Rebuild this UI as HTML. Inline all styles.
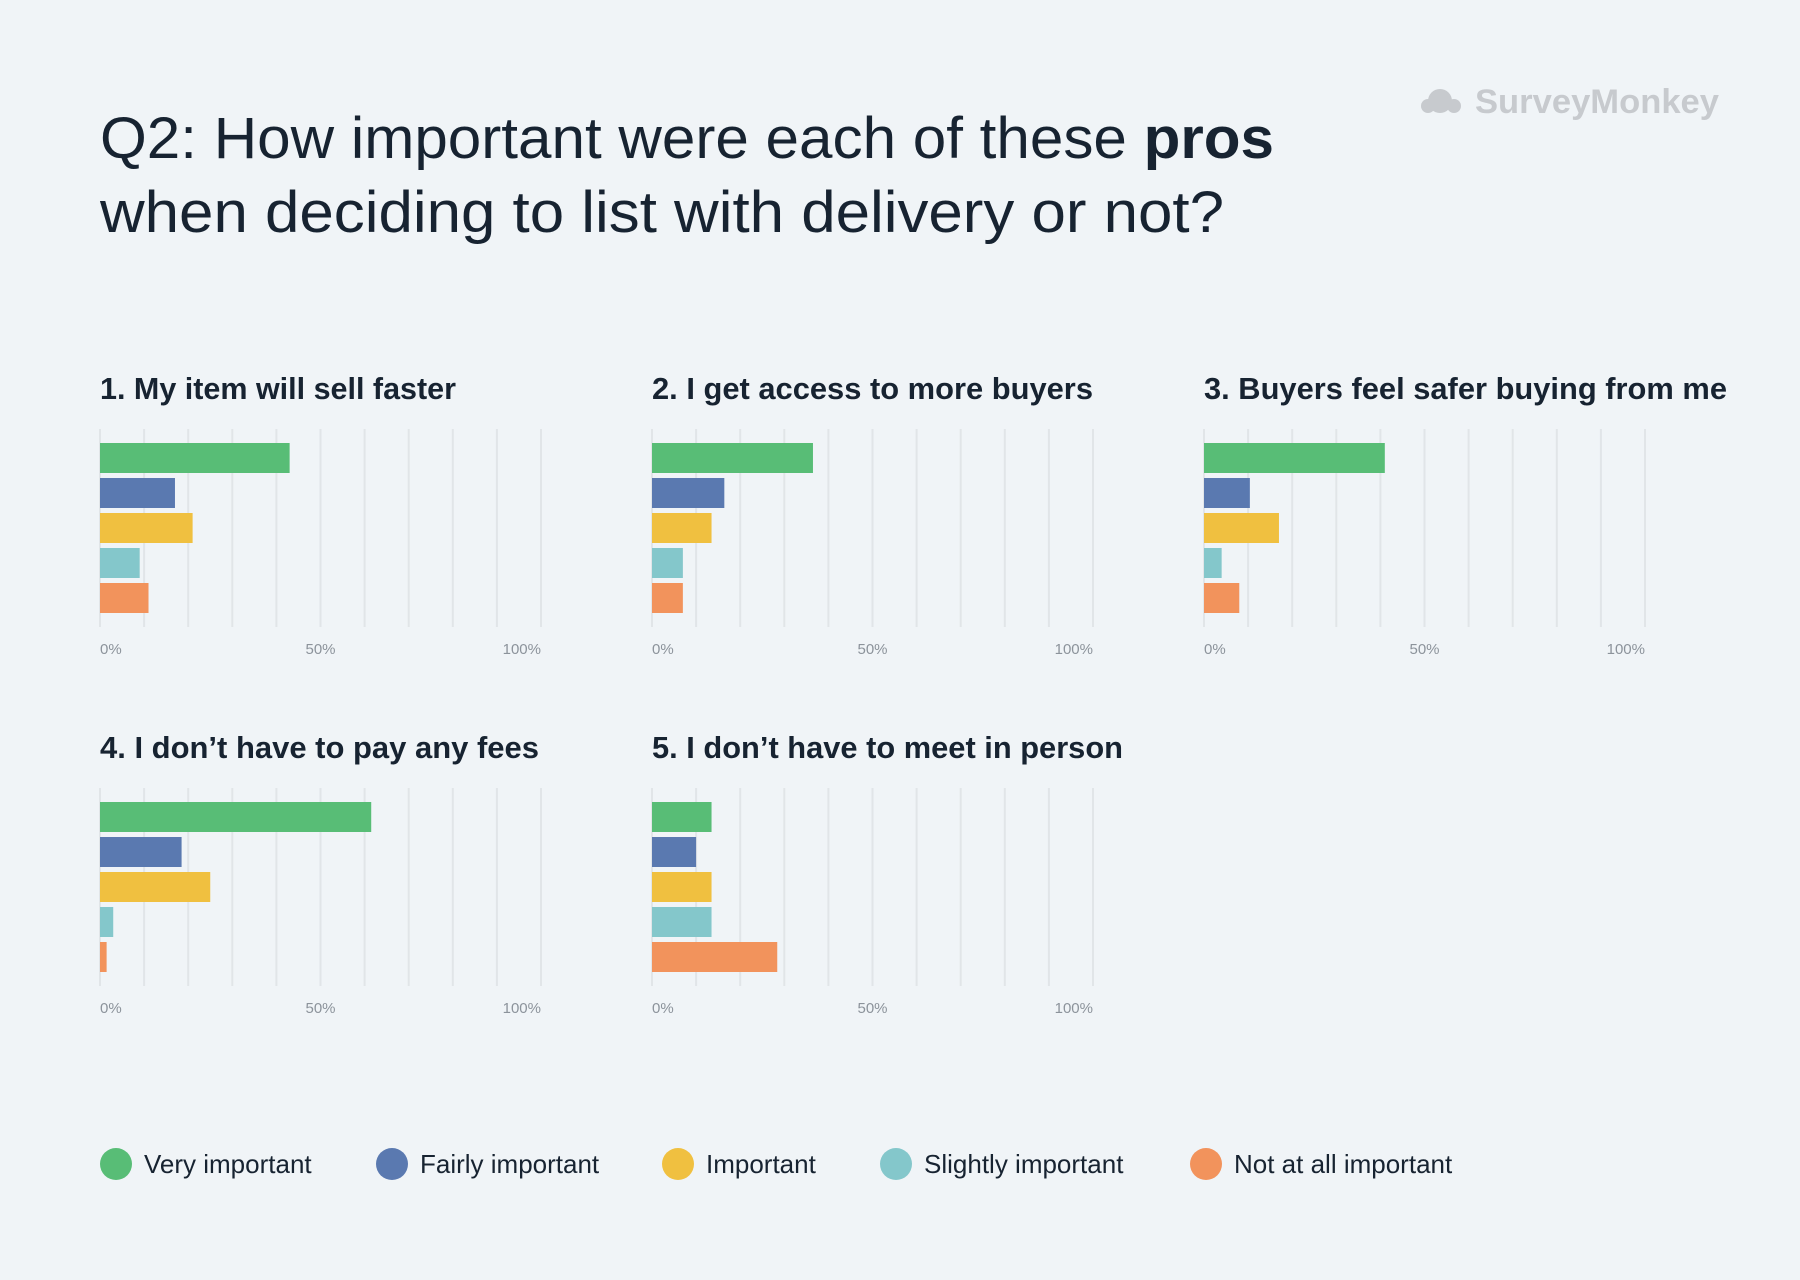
<!DOCTYPE html>
<html><head><meta charset="utf-8"><style>
html,body{margin:0;padding:0;background:#f0f4f7}
svg{display:block}
text{font-family:"Liberation Sans",sans-serif}
</style></head><body>
<svg id="chart" width="1800" height="1280" viewBox="0 0 1800 1280" xmlns="http://www.w3.org/2000/svg">
<rect width="1800" height="1280" fill="#f0f4f7"/>
<text x="100" y="158" font-size="58" fill="#172331" textLength="1174" lengthAdjust="spacingAndGlyphs">Q2: How important were each of these <tspan font-weight="bold">pros</tspan></text>
<text x="100" y="232" font-size="58" fill="#172331" textLength="1124" lengthAdjust="spacingAndGlyphs">when deciding to list with delivery or not?</text>
<g>
<circle cx="1440" cy="101" r="12" fill="#c7cace"/><circle cx="1428" cy="106" r="7" fill="#c7cace"/><circle cx="1454" cy="106" r="7" fill="#c7cace"/>
<text x="1475" y="113" font-size="34" font-weight="bold" fill="#c7cace" textLength="244" lengthAdjust="spacingAndGlyphs">SurveyMonkey</text>
</g>
<g id="panels"></g>
<g id="legend"></g>
</svg>
<script>
const titles=["1. My item will sell faster","2. I get access to more buyers","3. Buyers feel safer buying from me","4. I don\u2019t have to pay any fees","5. I don\u2019t have to meet in person"];
const veryImportant=[43,36.5,41,61.5,13.5];
const fairlyImportant=[17,16.4,10.4,18.5,10];
const important=[21,13.5,17,25,13.5];
const slightlyImportant=[9,7,4,3,13.5];
const notImportant=[11,7,8,1.5,28.4];
const tickLabels=["0%","50%","100%"];
const seriesNames=["Very important","Fairly important","Important","Slightly important","Not at all important"];
const colors=["#58bd76","#5a79b0","#f0c040","#84c7cb","#f2935c"];
const titleWidths=[356,441,523,439,471];
const NS="http://www.w3.org/2000/svg";
function mk(tag,attrs,parent){const e=document.createElementNS(NS,tag);for(const k in attrs)e.setAttribute(k,attrs[k]);parent.appendChild(e);return e;}
const panelsG=document.getElementById('panels');
const W=441;
function xs(v){return v/100*W;}
const series=[veryImportant,fairlyImportant,important,slightlyImportant,notImportant];
for(let p=0;p<5;p++){
  const ox=[100,652,1204,100,652][p];
  const oy=p<3?0:359;
  const g=mk('g',{},panelsG);
  
  
  const t=mk('text',{x:ox,y:oy+399,'font-size':31,'font-weight':'bold',fill:'#172331',textLength:titleWidths[p],lengthAdjust:'spacingAndGlyphs'},g);
  t.textContent=titles[p];
  
  
  for(let i=0;i<=10;i++){
    const l=mk('line',{x1:ox+xs(i*10),x2:ox+xs(i*10),y1:oy+429,y2:oy+627,stroke:'#e1e5e8','stroke-width':2},g);
    
    
  }
  for(let s=0;s<5;s++){
    const r=mk('rect',{x:ox,y:oy+443+s*35,width:xs(series[s][p]),height:30,fill:colors[s]},g);
    
    
  }
  [0,50,100].forEach((v,i)=>{
    const anchor=i==0?'start':(i==1?'middle':'end');
    const tx=mk('text',{x:ox+xs(v),y:oy+654,'font-size':15,fill:'#8c939b','text-anchor':anchor},g);
    tx.textContent=tickLabels[i];
    
    
  });
}
const lg=document.getElementById('legend');
const lx=[100,376,662,880,1190];
for(let s=0;s<5;s++){
  const g=mk('g',{},lg);
  
  
  mk('circle',{cx:lx[s]+16,cy:1164,r:16,fill:colors[s]},g);
  const t=mk('text',{x:lx[s]+44,y:1173,'font-size':26,fill:'#172331'},g);
  t.textContent=seriesNames[s];
}
</script>
</body></html>
